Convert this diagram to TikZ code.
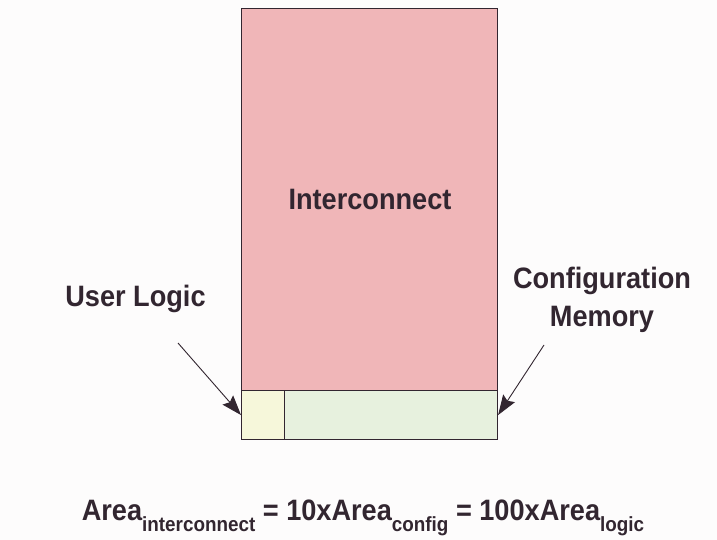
\documentclass[tikz,border=0pt]{standalone}
\usepackage{fontspec}
\setmainfont{Liberation Sans}
\newfontfamily\labfont{Liberation Sans}[FakeStretch=0.92]
\usetikzlibrary{arrows.meta}
\definecolor{txt}{RGB}{50,38,48}
\definecolor{pinkf}{RGB}{240,182,184}
\definecolor{ylwf}{RGB}{246,247,218}
\definecolor{grnf}{RGB}{231,241,222}
\definecolor{bg}{RGB}{253,252,252}
\newcommand{\sub}[1]{\raisebox{-11.7pt}{\fontsize{20.5}{22}\selectfont #1}}
\begin{document}
\begin{tikzpicture}[x=1pt,y=-1pt,
  box/.style={draw=txt, line width=1.1pt, anchor=north west, inner sep=0pt},
  lbl/.style={text=txt, font=\labfont\bfseries\fontsize{29.5}{33}\selectfont, align=center, inner sep=0pt},
  arr/.style={draw=txt, line width=0.9pt, -{Stealth[length=20pt,width=14pt,inset=3pt]}}]
\fill[bg] (0,0) rectangle (717,540);
\useasboundingbox (0,0) rectangle (717,540);
\node[box, fill=pinkf, minimum width=256pt, minimum height=382pt] (ic) at (241,8) {};
\node[box, fill=ylwf, minimum width=43pt, minimum height=49pt] (ul) at (241,390) {};
\node[box, fill=grnf, minimum width=213pt, minimum height=49pt] (cm) at (284,390) {};
\node[lbl] (ict) at (370,199) {Interconnect};
\node[lbl] (ult) at (135.5,299) {User Logic};
\node[lbl] (cmt) at (602,300) {Configuration\\[5pt]Memory};
\coordinate (la) at (178,343);
\coordinate (ra) at (544,345);
\draw[arr] (la) -- (ul.west);
\draw[arr] (ra) -- (cm.east);
\node[lbl, anchor=base] (eq) at (363,520) {Area\sub{interconnect} = 10xArea\sub{config} = 100xArea\sub{logic}};
\end{tikzpicture}
\end{document}
